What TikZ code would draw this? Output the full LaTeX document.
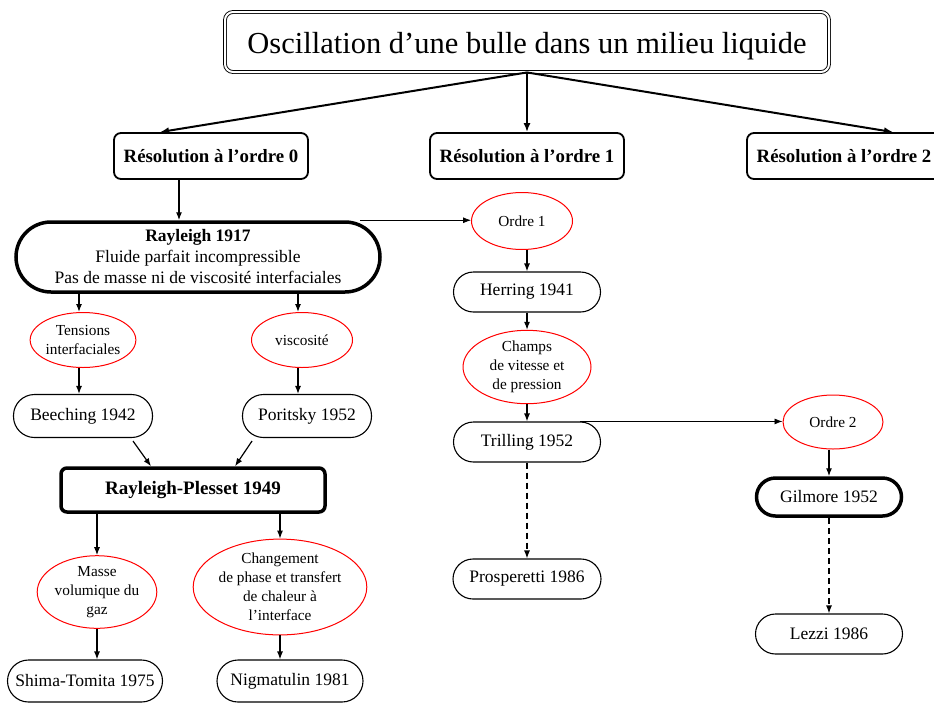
\documentclass[tikz,border=0pt]{standalone}
\usepackage{fontspec}
\setmainfont{Liberation Serif}
\usetikzlibrary{shapes.geometric,arrows.meta,calc}
\begin{document}
\begin{tikzpicture}[x=1pt,y=-1pt,
 stad/.style={draw, line width=1.1pt, rounded corners=20pt, minimum height=40pt, inner sep=0pt, font=\fontsize{17.5}{21}\selectfont, align=center},
 ell/.style={draw=red, line width=1pt, ellipse, inner sep=0pt, align=center, font=\fontsize{15.3}{19}\selectfont},
 resbox/.style={draw, line width=1.8pt, rounded corners=7pt, minimum width=194pt, minimum height=46pt, inner sep=0pt, font=\bfseries\fontsize{18.8}{22}\selectfont},
 arr/.style={-{Latex[length=8pt,width=6pt]}, line width=1.2pt},
 thinarr/.style={-{Latex[length=8pt,width=6pt]}, line width=0.8pt},
 bigarr/.style={-{Latex[length=9pt,width=7pt]}, line width=2pt},
 dasharr/.style={arr, dash pattern=on 6pt off 4pt}]
\useasboundingbox (0,0) rectangle (934,702);

% title
\node[draw, double, double distance=2pt, line width=0.9pt, rounded corners=8pt, minimum width=604pt, minimum height=60pt, inner sep=0pt, text height=30pt, text depth=6.5pt, font=\fontsize{30.5}{34}\selectfont] (title) at (527,42) {Oscillation d’une bulle dans un milieu liquide};

% resolution boxes
\node[resbox] (res0) at (211,156) {Résolution à l’ordre 0};
\node[resbox] (res1) at (527,156) {Résolution à l’ordre 1};
\node[resbox] (res2) at (844,156) {Résolution à l’ordre 2};

% order 0 branch
\node[stad, line width=3.5pt, minimum width=364pt, minimum height=70pt, rounded corners=35pt] (ray) at (198,257)
 {\textbf{Rayleigh 1917}\\Fluide parfait incompressible\\Pas de masse ni de viscosité interfaciales};
\node[ell, minimum width=101pt, minimum height=55pt] (tens) at (83,340) {Tensions\\interfaciales};
\node[ell, minimum width=101pt, minimum height=55pt] (visc) at (302,340) {viscosité};
\node[stad, minimum width=139pt, minimum height=43pt, rounded corners=21pt] (beech) at (83,416) {Beeching 1942};
\node[stad, minimum width=129pt, minimum height=43pt, rounded corners=21pt] (por) at (307,416) {Poritsky 1952};
\node[draw, line width=3.5pt, rounded corners=6pt, minimum width=264pt, minimum height=44pt, inner sep=0pt, font=\bfseries\fontsize{19}{22}\selectfont] (rp) at (193,490) {Rayleigh-Plesset 1949};
\node[ell, minimum width=111pt, minimum height=64pt] (masse) at (97,592) {Masse\\volumique du\\gaz};
\node[ell, minimum width=147pt, minimum height=93pt] (chg) at (280,587) {Changement\\de phase et transfert\\de chaleur à\\l’interface};
\node[stad, minimum width=155pt, minimum height=42pt, rounded corners=21pt] (shima) at (85,681) {Shima-Tomita 1975};
\node[stad, minimum width=146pt, minimum height=42pt, rounded corners=21pt] (nig) at (290,681) {Nigmatulin 1981};

% order 1 branch
\node[ell, minimum width=101pt, minimum height=57pt] (ord1) at (522,221) {Ordre 1};
\node[stad, minimum width=147pt] (her) at (527,292) {Herring 1941};
\node[ell, minimum width=128pt, minimum height=73pt] (champs) at (527,367) {Champs\\de vitesse et\\de pression};
\node[stad, minimum width=147pt] (tril) at (527,442) {Trilling 1952};
\node[stad, minimum width=148pt] (prosp) at (527,579) {Prosperetti 1986};

% order 2 branch
\node[ell, minimum width=100pt, minimum height=54pt] (ord2) at (833,422) {Ordre 2};
\node[stad, line width=3.5pt, minimum width=145pt, minimum height=38pt, rounded corners=19pt] (gil) at (829,497) {Gilmore 1952};
\node[stad, minimum width=147pt] (lez) at (829,634) {Lezzi 1986};

% connectors from title
\draw[bigarr] (title.south) -- ($(res0.north)+(-51,0)$);
\draw[bigarr] (title.south) -- (res1.north);
\draw[bigarr] (title.south) -- ($(res2.north)+(49,0)$);

% order 0
\coordinate (r0a) at ($(res0.south)+(-32,0)$);
\draw[arr] (r0a) -- (r0a |- ray.north);
\coordinate (rayr) at ($(ray.north)+(162,0)$);
\draw[thinarr] (rayr) -- (rayr -| ord1.west);
\coordinate (rayl) at ($(ray.south)+(-119,0)$);
\coordinate (rayv) at ($(ray.south)+(100,0)$);
\draw[arr] (rayl) -- (rayl |- tens.north);
\draw[arr] (rayv) -- (rayv |- visc.north);
\coordinate (tb) at ($(tens.south)+(-4,0)$);
\draw[arr] (tb) -- (tb |- beech.north);
\coordinate (vb) at ($(visc.south)+(-4,0)$);
\draw[arr] (vb) -- (vb |- por.north);
\draw[arr] ($(beech.south)+(50,3)$) -- ($(rp.north)+(-42,0)$);
\draw[arr] ($(por.south)+(-55,3)$) -- ($(rp.north)+(42,0)$);
\draw[arr] (masse.north |- rp.south) -- (masse.north);
\draw[arr] (chg.north |- rp.south) -- (chg.north);
\draw[arr] (masse.south) -- (masse.south |- shima.north);
\draw[arr] (chg.south) -- (chg.south |- nig.north);

% order 1
\draw[arr] (her.north |- ord1.south) -- (her.north);
\draw[arr] (her.south) -- (champs.north);
\draw[arr] (champs.south) -- (tril.north);
\draw[dasharr] (tril.south) -- (prosp.north);
\coordinate (trr) at ($(tril.north)+(53,0)$);
\draw[thinarr] (trr) -- (trr -| ord2.west);

% order 2
\draw[arr] (gil.north |- ord2.south) -- (gil.north);
\draw[dasharr] (gil.south) -- (lez.north);
\end{tikzpicture}
\end{document}
